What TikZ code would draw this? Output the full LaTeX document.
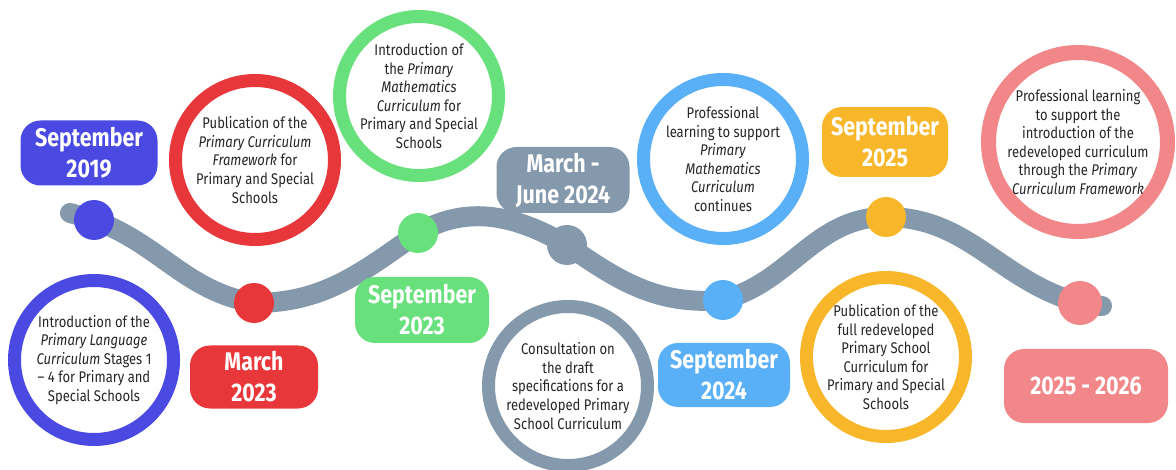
\documentclass[tikz,border=0pt]{standalone}
\usepackage{fontspec}
\setmainfont{Fira Sans}[FakeStretch=0.84]
\usetikzlibrary{positioning}
\usetikzlibrary{backgrounds}
\definecolor{tlblue}{HTML}{4A4AE3}
\definecolor{tlred}{HTML}{E8373A}
\definecolor{tlgreen}{HTML}{68E07B}
\definecolor{tlgrey}{HTML}{8599AD}
\definecolor{tlsky}{HTML}{5AB0F7}
\definecolor{tlyellow}{HTML}{F8B72A}
\definecolor{tlpink}{HTML}{F2878A}
\definecolor{tltext}{HTML}{262626}
\tikzset{
    wave/.style = {line width=20pt,draw=tlgrey,line cap=round},
    dot/.style = {circle,fill=#1,minimum size=40pt,inner sep=0pt},
    ring/.style = {circle,draw=#1,line width=13pt,fill=white,minimum size=159pt,inner sep=0pt,
                   align=center,text=tltext,font=\fontsize{15.5}{18.6}\selectfont},
    datebox/.style = {rectangle,rounded corners=20pt,fill=#1,minimum width=132pt,minimum height=66pt,
                      align=center,text=white,font=\fontsize{25.5}{31}\bfseries\selectfont},
}
\begin{document}
\begin{tikzpicture}[x=1pt,y=1pt]
\useasboundingbox (0,0) rectangle (1176,-470);
% dots on the wave
\node[dot=tlblue]   at (94,-220)   (p19)  {};
\node[dot=tlred]    at (254,-303)  (p23m) {};
\node[dot=tlgreen]  at (418,-233)  (p23s) {};
\node[dot=tlgrey]   at (567,-245)  (p24m) {};
\node[dot=tlsky]    at (723,-300)  (p24s) {};
\node[dot=tlyellow] at (886,-217)  (p25)  {};
\node[dot=tlpink,minimum size=44pt] at (1080,-303) (p26) {};
\coordinate (ws) at (70,-213);
\coordinate (we) at (1102,-306);
\begin{scope}[on background layer]
\draw[wave] (ws) to[out=-15,in=165] (p19.center)
    to[out=-20,in=170] (p23m.center)
    to[out=0,in=-145] (p23s.center)
    to[out=30,in=150] (p24m.center)
    to[out=-35,in=185] (p24s.center)
    to[out=15,in=180] (p25.center)
    to[out=0,in=165] (p26.center)
    to[out=-10,in=175] (we);
\end{scope}
% rings
\node[ring=tlblue]   at (94,-360)   (r19)  {Introduction of the\\ \textit{Primary Language}\\ \textit{Curriculum} Stages 1\\ – 4 for Primary and\\ Special Schools};
\node[ring=tlred]    at (255,-160)  (r23m) {Publication of the\\ \textit{Primary Curriculum}\\ \textit{Framework} for\\ Primary and Special\\ Schools};
\node[ring=tlgreen]  at (419,-96)   (r23s) {Introduction of\\ the \textit{Primary}\\ \textit{Mathematics}\\ \textit{Curriculum} for\\ Primary and Special\\ Schools};
\node[ring=tlgrey]   at (568,-386)  (r24m) {Consultation on\\ the draft\\ specifications for a\\ redeveloped Primary\\ School Curriculum};
\node[ring=tlsky]    at (723,-159)  (r24s) {Professional\\ learning to support\\ \textit{Primary}\\ \textit{Mathematics}\\ \textit{Curriculum}\\ continues};
\node[ring=tlyellow] at (886,-357)  (r25)  {Publication of the\\ full redeveloped\\ Primary School\\ Curriculum for\\ Primary and Special\\ Schools};
\node[ring=tlpink,line width=15pt,minimum size=179pt] at (1078,-142) (r26) {Professional learning\\ to support the\\ introduction of the\\ redeveloped curriculum\\ through the \textit{Primary}\\ \textit{Curriculum Framework}};
% dates
\node[datebox=tlblue,minimum width=137pt,minimum height=65pt]   at (89,-153)   (d19)  {September\\ 2019};
\node[datebox=tlred,minimum width=128pt,minimum height=63pt]    at (254,-377)  (d23m) {March\\ 2023};
\node[datebox=tlgreen,minimum width=134pt]                      at (422,-310)  (d23s) {September\\ 2023};
\node[datebox=tlgrey,minimum width=133pt]                       at (563,-180)  (d24m) {March -\\ June 2024};
\node[datebox=tlsky,minimum height=64pt]                        at (724,-375)  (d24s) {September\\ 2024};
\node[datebox=tlyellow,minimum width=126pt,minimum height=70pt] at (885,-142)  (d25)  {September\\ 2025};
\node[datebox=tlpink,minimum width=164pt,minimum height=74pt]   at (1086,-386) (d26)  {2025 - 2026};
\end{tikzpicture}
\end{document}
